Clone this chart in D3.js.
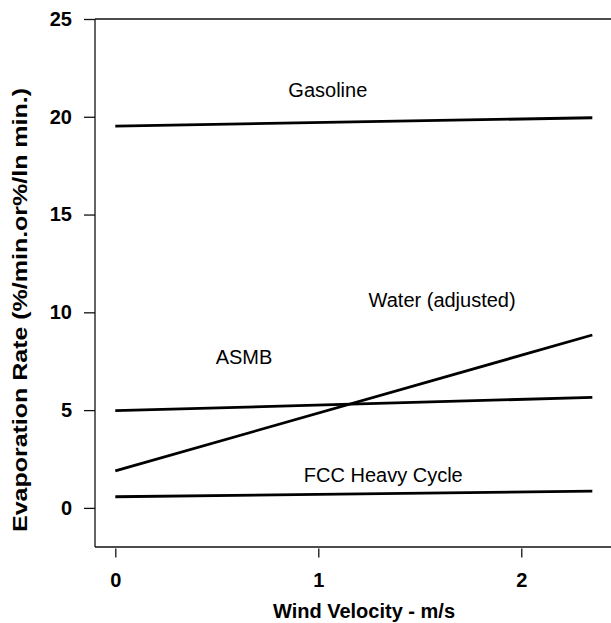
<!DOCTYPE html>
<html>
<head>
<meta charset="utf-8">
<style>
    body { margin: 0; background: #fff; }
    text { font-family: "Liberation Sans", Arial, sans-serif; fill: #000; }
    .tick text { font-size: 20px; font-weight: bold; }
    .label { font-size: 20px; }
    .title { font-size: 20px; font-weight: bold; }
</style>
</head>
<body>
<svg id="plot"></svg>
<script src="https://d3js.org/d3.v7.min.js"></script>
<script>

// wind velocity (m/s) at the two ends of each fitted line
var windVelocity = [0, 2.35];

// evaporation rate at those two velocities
var gasoline = [19.52, 19.95];
var water = [1.89, 8.84];
var asmb = [4.97, 5.65];
var fcc = [0.57, 0.86];

var seriesNames = ["Gasoline", "Water (adjusted)", "ASMB", "FCC Heavy Cycle"];
var seriesValues = [gasoline, water, asmb, fcc];

// where each curve's name sits, in data units
var labelX = [1.047, 1.61, 0.634, 1.32];
var labelY = [21.03, 10.26, 7.36, 1.33];

var xTicks = [0, 1, 2];
var yTicks = [0, 5, 10, 15, 20, 25];

var screen = {width:611, height:623};
var margins = {top:19, bottom:76, left:95, right:0};

var graph =
{
    width:screen.width-margins.left-margins.right,
    height:screen.height-margins.top-margins.bottom
};

var svg = d3.select("#plot")
    .attr("width",screen.width)
    .attr("height",screen.height);

var xScale = d3.scaleLinear()
    .domain([-0.1, 2.442])
    .range([margins.left, margins.left+graph.width]);

var yScale = d3.scaleLinear()
    .domain([-2, 25])
    .range([margins.top+graph.height, margins.top]);

// frame: left, top and bottom edges (right edge falls outside the picture)
var frame = svg.append("g")
    .attr("stroke","#111")
    .attr("stroke-width",1.3);

frame.append("line")
    .attr("x1",margins.left).attr("x2",margins.left)
    .attr("y1",margins.top).attr("y2",margins.top+graph.height);

frame.append("line")
    .attr("x1",margins.left).attr("x2",screen.width)
    .attr("y1",margins.top).attr("y2",margins.top);

frame.append("line")
    .attr("x1",margins.left).attr("x2",screen.width)
    .attr("y1",margins.top+graph.height).attr("y2",margins.top+graph.height);

// axes
var yAxis = d3.axisLeft(yScale)
    .tickValues(yTicks)
    .tickSize(11)
    .tickPadding(12);

svg.append("g")
    .attr("transform","translate("+margins.left+",0)")
    .call(yAxis)
    .call(function(g){ g.select(".domain").remove(); })
    .call(function(g){ g.selectAll(".tick line").attr("stroke","#111").attr("stroke-width",1.3); });

var xAxis = d3.axisBottom(xScale)
    .tickValues(xTicks)
    .tickFormat(d3.format("d"))
    .tickSize(9)
    .tickPadding(14.8);

svg.append("g")
    .attr("transform","translate(0,"+(margins.top+graph.height+1.5)+")")
    .call(xAxis)
    .call(function(g){ g.select(".domain").remove(); })
    .call(function(g){ g.selectAll(".tick line").attr("stroke","#111").attr("stroke-width",1.3); });

svg.selectAll(".tick text")
    .attr("font-family",null)
    .attr("font-size",null);

// lines
var line = d3.line()
    .x(function(d,i){ return xScale(windVelocity[i]); })
    .y(function(d){ return yScale(d); });

svg.append("g")
    .selectAll("path")
    .data(seriesValues)
    .enter()
    .append("path")
    .attr("d",line)
    .attr("fill","none")
    .attr("stroke","#000")
    .attr("stroke-width",2.8);

// series names
svg.append("g")
    .selectAll("text")
    .data(seriesNames)
    .enter()
    .append("text")
    .classed("label",true)
    .attr("text-anchor","middle")
    .attr("x",function(d,i){ return xScale(labelX[i]); })
    .attr("y",function(d,i){ return yScale(labelY[i]); })
    .text(function(d){ return d; });

// axis titles
svg.append("text")
    .classed("title",true)
    .attr("text-anchor","middle")
    .attr("x",364)
    .attr("y",618)
    .text("Wind Velocity - m/s");

svg.append("text")
    .classed("title",true)
    .attr("text-anchor","middle")
    .attr("transform","translate(27,310) rotate(-90)")
    .attr("textLength",444)
    .attr("lengthAdjust","spacingAndGlyphs")
    .text("Evaporation Rate (%/min.or%/ln min.)");

</script>
</body>
</html>
